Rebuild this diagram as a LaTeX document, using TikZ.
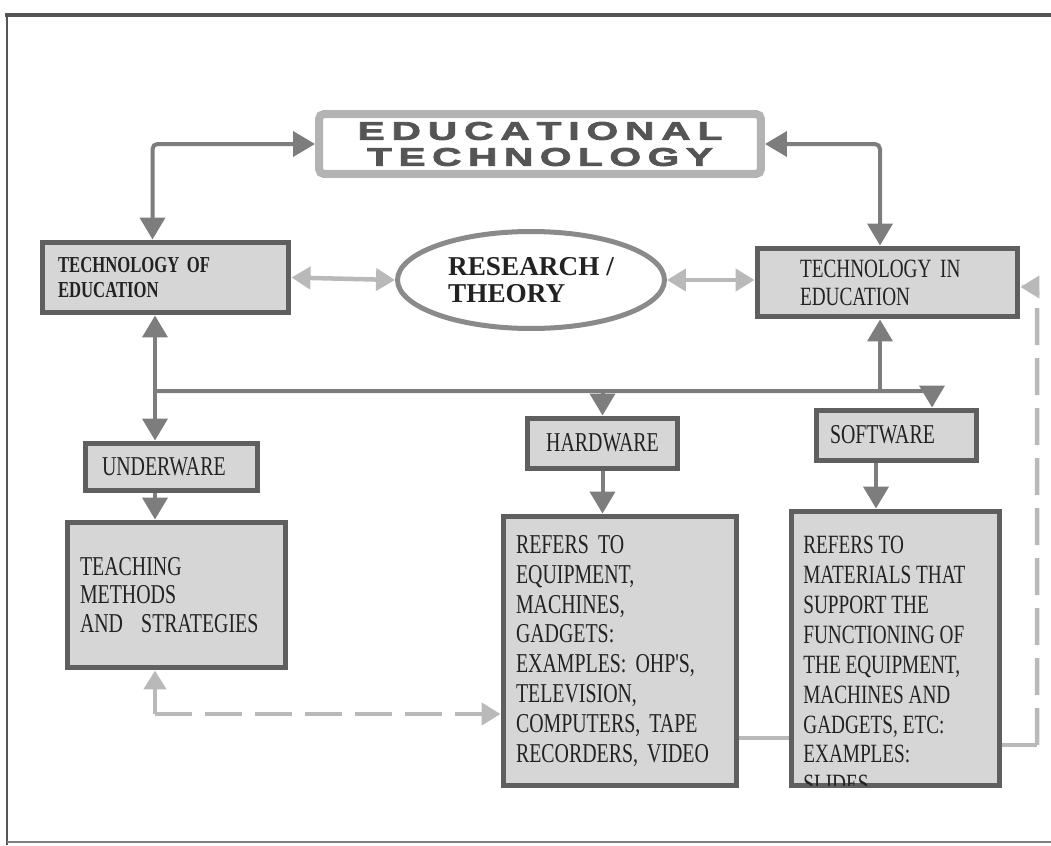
\documentclass[tikz,border=0pt]{standalone}
\usepackage{fontspec}
\setmainfont{Liberation Serif}
\newfontfamily\boxfont[FakeStretch=0.73]{Liberation Serif}
\newfontfamily\headfont[FakeStretch=1.6,FakeBold=3]{Liberation Sans}
\usetikzlibrary{arrows.meta,shapes.geometric}

\definecolor{darkline}{HTML}{7D7D7D}
\definecolor{lightline}{HTML}{B9B9B9}
\definecolor{boxline}{HTML}{5F5F5F}
\definecolor{boxfill}{HTML}{D6D6D6}
\definecolor{edline}{HTML}{B3B3B3}
\definecolor{ellline}{HTML}{8A8A8A}
\definecolor{headgray}{HTML}{555555}
\definecolor{textdark}{HTML}{222222}
\definecolor{framedark}{HTML}{555555}

\tikzset{
    darrow/.style={draw=darkline, line width=0.08cm, rounded corners=0.1cm, >={Triangle[length=0.44cm,width=0.5cm]}},
    larrow/.style={draw=lightline, line width=0.09cm, rounded corners=0.1cm, >={Triangle[length=0.38cm,width=0.44cm]}},
    ldash/.style={larrow, dash pattern=on 0.74cm off 0.26cm}
}

\begin{document}
\begin{tikzpicture}[x=0.02cm, y=-0.02cm]
    \useasboundingbox (0,0) rectangle (1051,845);

    % frame
    \draw[line width=0.08cm, framedark] (5,15) -- (1051,15);
    \draw[line width=0.06cm, framedark] (7,15) -- (7,845);
    \draw[line width=0.04cm, gray] (7,842) -- (1051,842);

    \node[draw=edline, fill=white, line width=0.16cm, rounded corners=0.1cm, minimum width=8.84cm, minimum height=1.2cm, inner sep=0pt, align=center, text=headgray, font=\headfont\bfseries\fontsize{14.5}{14.8}\selectfont] (edtech) at (540,144)
        {\makebox[7.3cm][s]{E\hfill D\hfill U\hfill C\hfill A\hfill T\hfill I\hfill O\hfill N\hfill A\hfill L}\\
         \makebox[6.92cm][s]{T\hfill E\hfill C\hfill H\hfill N\hfill O\hfill L\hfill O\hfill G\hfill Y}};

    \node[ellipse, draw=ellline, fill=white, line width=0.1cm, minimum width=5.34cm, minimum height=1.94cm, inner sep=0pt, align=left, text=textdark, font=\bfseries\fontsize{15.5}{15.5}\selectfont] (research) at (531,280) {RESEARCH /\\THEORY};

    \begin{scope}[every node/.style={draw=boxline, fill=boxfill, line width=0.1cm, align=left, inner ysep=0pt, text=textdark, font=\boxfont\fontsize{15.5}{17}\selectfont}]
        \node[minimum width=4.94cm, minimum height=1.42cm, inner xsep=0.32cm, text width=4.3cm, font=\boxfont\bfseries\fontsize{13}{14}\selectfont] (techof) at (165.5,277.5) {TECHNOLOGY OF\\EDUCATION};
        \node[minimum width=5.22cm, minimum height=1.38cm, inner xsep=0.86cm, text width=3.5cm, font=\boxfont\fontsize{15}{16}\selectfont] (techin) at (887.5,282.5) {TECHNOLOGY IN\\EDUCATION};
        \node[minimum width=3.02cm, minimum height=1cm, inner xsep=0.2cm, text width=2.62cm, align=center] (hardware) at (602.5,443) {HARDWARE};
        \node[minimum width=3.22cm, minimum height=1cm, inner xsep=0.28cm, text width=2.66cm] (software) at (896.5,435) {SOFTWARE};
        \node[minimum width=3.46cm, minimum height=0.94cm, inner xsep=0.34cm, text width=2.78cm] (underware) at (171.5,466.5) {UNDERWARE};
        \node[minimum width=4.38cm, minimum height=2.92cm, inner xsep=0.26cm, text width=3.86cm, font=\boxfont\fontsize{15.5}{16}\selectfont] (teaching) at (176.5,595) {TEACHING\\METHODS\\AND\ \ STRATEGIES};
        \node[minimum width=4.68cm, minimum height=5.4cm, inner xsep=0.26cm, text width=4.16cm] (hwdetail) at (620,651) {REFERS TO\\EQUIPMENT,\\MACHINES,\\GADGETS:\\EXAMPLES: OHP'S,\\TELEVISION,\\COMPUTERS, TAPE\\RECORDERS, VIDEO};
        \node[minimum width=4.18cm, minimum height=5.5cm, inner sep=0pt] (swdetail) at (895.5,648.5) {};
    \end{scope}

    \begin{scope}
        \clip ([shift={(0.05cm,-0.05cm)}]swdetail.north west) rectangle ([shift={(-0.05cm,0.05cm)}]swdetail.south east);
        \node[anchor=north west, align=left, inner sep=0pt, text=textdark, font=\boxfont\fontsize{15}{17}\selectfont] (swtext) at (803,536)
            {REFERS TO\\MATERIALS THAT\\SUPPORT THE\\FUNCTIONING OF\\THE EQUIPMENT,\\MACHINES AND\\GADGETS, ETC:\\EXAMPLES:\\SLIDES,};
    \end{scope}

    % top level links
    \draw[darrow,<->] (edtech.west) -| ([xshift=-0.26cm]techof.north);
    \draw[darrow,<->] (edtech.east) -| ([xshift=-0.15cm]techin.north);
    \draw[larrow,<->] (techof.east) -- (research.west);
    \draw[larrow,<->] (research.east) -- (research.east -| techin.west);

    % branches
    \coordinate (j1) at (155,391);
    \draw[darrow,<->] (techof.south -| j1) -- (underware.north -| j1);
    \draw[darrow,->] (j1) -| ([xshift=0.71cm]software.north);
    \draw[darrow,->] (j1 -| hardware.north) -- (hardware.north);
    \draw[darrow,->] ([xshift=-0.15cm]techin.south |- j1) -- ([xshift=-0.15cm]techin.south);
    \draw[darrow,->] (hardware.south) -- (hardware.south |- hwdetail.north);
    \draw[darrow,->] ([xshift=-0.41cm]software.south) -- ([xshift=-0.41cm]software.south |- swdetail.north);
    \draw[darrow,->] (underware.south -| j1) -- (teaching.north -| j1);

    % dashed links
    \coordinate (j2) at (155,714);
    \draw[larrow,->] (j2) -- (teaching.south -| j2);
    \draw[ldash,->] (j2) -- (j2 -| hwdetail.west);
    \draw[larrow] ([yshift=-1.74cm]hwdetail.east) -- ([yshift=-1.74cm]hwdetail.east -| swdetail.west);
    \coordinate (j3) at (1037,745);
    \draw[larrow] (j3 -| swdetail.east) -- (j3);
    \draw[ldash,->] (j3) |- ([yshift=-0.09cm]techin.east);
\end{tikzpicture}
\end{document}
